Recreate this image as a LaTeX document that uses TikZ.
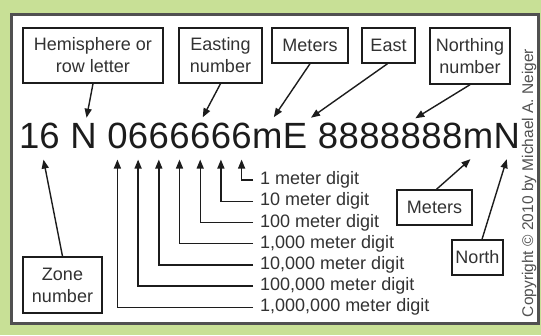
\documentclass[tikz,border=0pt]{standalone}
\usepackage{fontspec}
\setmainfont{Liberation Sans}
\usetikzlibrary{arrows.meta}
\definecolor{bggreen}{RGB}{200,224,150}
\definecolor{ink}{RGB}{28,28,28}
\definecolor{txtgray}{RGB}{50,50,50}
\definecolor{framegray}{RGB}{80,80,80}
\begin{document}
\begin{tikzpicture}[x=1pt,y=-1pt,
  lbox/.style={draw=ink, line width=1.4pt, fill=white, inner sep=0pt, align=center,
               font=\fontsize{18}{22}\selectfont, text=txtgray},
  chr/.style={inner sep=0pt, anchor=base west, font=\fontsize{36.5}{40}\selectfont, text=ink},
  arr/.style={draw=ink, line width=1.4pt, -{Triangle[length=9pt,width=7pt]}},
  dlab/.style={anchor=west, inner xsep=7pt, inner ysep=0pt,
               font=\fontsize{18}{20}\selectfont, text=txtgray}]
\useasboundingbox (0,0) rectangle (541,335);
\fill[bggreen] (0,0) rectangle (541,335);
\draw[framegray, line width=2.5pt, fill=white] (11.5,14.5) rectangle (538.5,323.5);

% main coordinate string
\node[chr] (c16) at (19,148) {16};
\node[chr] (cN) at ([xshift=10.15pt]c16.base east) {N};
\node[chr] (d1) at ([xshift=10.15pt]cN.base east) {0};
\node[chr] (d2) at (d1.base east) {6};
\node[chr] (d3) at (d2.base east) {6};
\node[chr] (d4) at (d3.base east) {6};
\node[chr] (d5) at (d4.base east) {6};
\node[chr] (d6) at (d5.base east) {6};
\node[chr] (d7) at (d6.base east) {6};
\node[chr] (m1) at (d7.base east) {m};
\node[chr] (cE) at (m1.base east) {E};
\node[chr] (e1) at ([xshift=10.15pt]cE.base east) {8};
\node[chr] (e2) at (e1.base east) {8};
\node[chr] (e3) at (e2.base east) {8};
\node[chr] (e4) at (e3.base east) {8};
\node[chr] (e5) at (e4.base east) {8};
\node[chr] (e6) at (e5.base east) {8};
\node[chr] (e7) at (e6.base east) {8};
\node[chr] (m2) at (e7.base east) {m};
\node[chr] (cN2) at (m2.base east) {N};

% label boxes
\node[lbox, minimum width=140pt, minimum height=55pt] (hemi) at (93,55.5) {Hemisphere or\\row letter};
\node[lbox, minimum width=83pt, minimum height=55pt] (easting) at (220.5,55.5) {Easting\\number};
\node[lbox, minimum width=76pt, minimum height=35pt] (meterstop) at (310,45.5) {Meters};
\node[lbox, minimum width=53pt, minimum height=35pt] (east) at (388.5,45.5) {East};
\node[lbox, minimum width=80pt, minimum height=56pt] (northing) at (470,56) {Northing\\number};
\node[lbox, minimum width=79pt, minimum height=56pt] (zone) at (62.5,285) {Zone\\number};
\node[lbox, minimum width=75pt, minimum height=35pt] (metersbot) at (434.5,207.5) {Meters};
\node[lbox, minimum width=51pt, minimum height=35pt] (north) at (477.5,257.5) {North};

% arrows from boxes
\draw[arr] (hemi.south) -- ([xshift=3pt,yshift=5pt]cN.north);
\draw[arr] (easting.south) -- ([xshift=2.5pt,yshift=5pt]d5.north);
\draw[arr] (meterstop.south) -- ([xshift=6.5pt,yshift=11pt]m1.north);
\draw[arr] ([xshift=-1pt]east.south) -- ([xshift=3.5pt,yshift=5pt]cE.north east);
\draw[arr] (northing.south) -- ([xshift=4.5pt,yshift=4pt]e5.north);
\draw[arr] (zone.north) -- ([xshift=4pt,yshift=-11pt]c16.south);
\draw[arr] ([xshift=2pt]metersbot.north) -- ([xshift=-7.5pt,yshift=-11pt]m2.south);
\draw[arr] ([xshift=4.5pt]north.north) -- ([yshift=-11pt]cN2.south);

% digit labels
\node[dlab] (l1) at (253,180) {1 meter digit};
\node[dlab] (l2) at (253,201.2) {10 meter digit};
\node[dlab] (l3) at (253,222.4) {100 meter digit};
\node[dlab] (l4) at (253,243.6) {1,000 meter digit};
\node[dlab] (l5) at (253,264.8) {10,000 meter digit};
\node[dlab] (l6) at (253,286) {100,000 meter digit};
\node[dlab] (l7) at (253,307.2) {1,000,000 meter digit};
\draw[arr] (l1.west) -| ([yshift=-11pt]d7.south);
\draw[arr] (l2.west) -| ([yshift=-11pt]d6.south);
\draw[arr] (l3.west) -| ([yshift=-11pt]d5.south);
\draw[arr] (l4.west) -| ([yshift=-11pt]d4.south);
\draw[arr] (l5.west) -| ([yshift=-11pt]d3.south);
\draw[arr] (l6.west) -| ([yshift=-11pt]d2.south);
\draw[arr] (l7.west) -| ([yshift=-11pt]d1.south);

% copyright
\node[rotate=90, inner sep=0pt, font=\fontsize{15.5}{16}\selectfont, text=txtgray!85] (copy) at (529,183) {Copyright © 2010 by Michael A. Neiger};
\end{tikzpicture}
\end{document}
